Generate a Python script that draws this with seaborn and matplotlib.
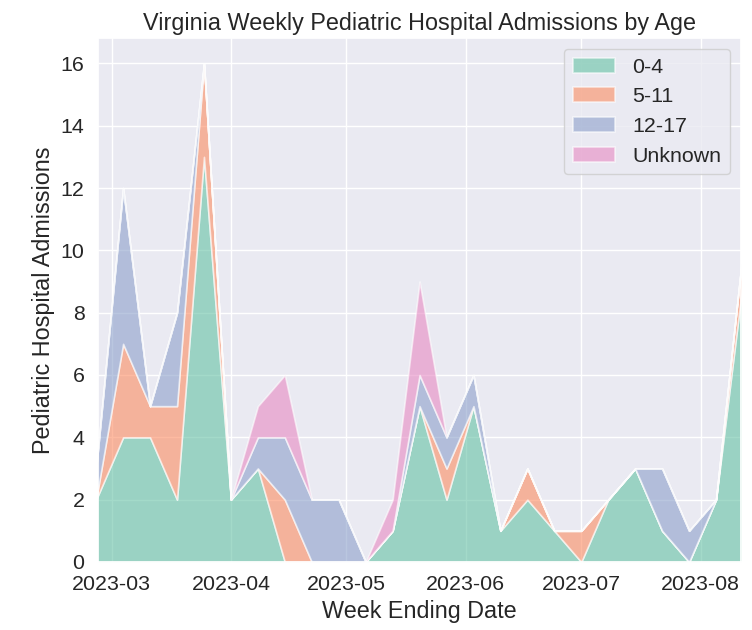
'''Virginia weekly pediatric hospital admissions plot module.

The function in the module plots a stacked area chart of the weekly
pediatric hospital admissions in Virginia split by age group.

This script requires the following modules:
    * matplotlib
    * pandas
    * seaborn

The module contains the following functions:
    * admissions_plot - plots the stacked admissions by age.
    * main - the main function of the script.
'''

# -----------------------------------------------------------------------------
# Modules

from matplotlib import pyplot as plt  # type: ignore
import pandas as pd  # type: ignore
import seaborn as sns  # type: ignore

# -----------------------------------------------------------------------------
# Data

week_ending = pd.date_range('2023-02-25', '2023-08-12', freq='7D')

age_groups = ['0-4', '5-11', '12-17', 'Unknown']

age_0_4 = [2, 4, 4, 2, 13, 2, 3, 0, 0, 0, 0, 1, 5,
           2, 5, 1, 2, 1, 0, 2, 3, 1, 0, 2, 9]
age_5_11 = [0, 3, 1, 3, 3, 0, 0, 2, 0, 0, 0, 0, 0,
            1, 0, 0, 1, 0, 1, 0, 0, 0, 0, 0, 1]
age_12_17 = [1, 5, 0, 3, 0, 0, 1, 2, 2, 2, 0, 0, 1,
             1, 1, 0, 0, 0, 0, 0, 0, 2, 1, 0, 0]
age_unknown = [0, 0, 0, 0, 0, 0, 1, 2, 0, 0, 0, 1, 3,
               0, 0, 0, 0, 0, 0, 0, 0, 0, 0, 0, 0]

# -----------------------------------------------------------------------------


def admissions_plot() -> None:
    """Plots the weekly pediatric hospital admissions by age.

    :return: None -- The function saves the plot in a file and does not return
     a value.
    """

    sns.set_theme(style='darkgrid', font_scale=1.4)
    plt.rcParams['font.family'] = ['Liberation Sans', 'DejaVu Sans']

    figure: plt.figure = plt.figure(figsize=(7.52, 6.3), dpi=100)
    ax = figure.add_axes([0.130, 0.108, 0.855, 0.831])

    colors = sns.color_palette('Set2', len(age_groups))
    ax.stackplot(week_ending, age_0_4, age_5_11, age_12_17, age_unknown,
                 labels=age_groups, colors=colors, alpha=0.6,
                 edgecolor='white', linewidth=1.2)

    # the reference view is trimmed a little at both ends
    ax.set_xlim(week_ending[0] + pd.Timedelta(hours=10),
                week_ending[-1] - pd.Timedelta(hours=14))
    ax.set_title('Virginia Weekly Pediatric Hospital Admissions by Age')
    ax.set_xlabel('Week Ending Date')
    ax.set_ylabel('Pediatric Hospital Admissions')
    ax.legend(loc='upper right')

    figure.savefig('out.png', dpi=100)
    plt.close()

# -----------------------------------------------------------------------------


def main() -> None:
    """The main function of the script.

    :return: None.
    """

    admissions_plot()

# -----------------------------------------------------------------------------


if __name__ == "__main__":
    main()
